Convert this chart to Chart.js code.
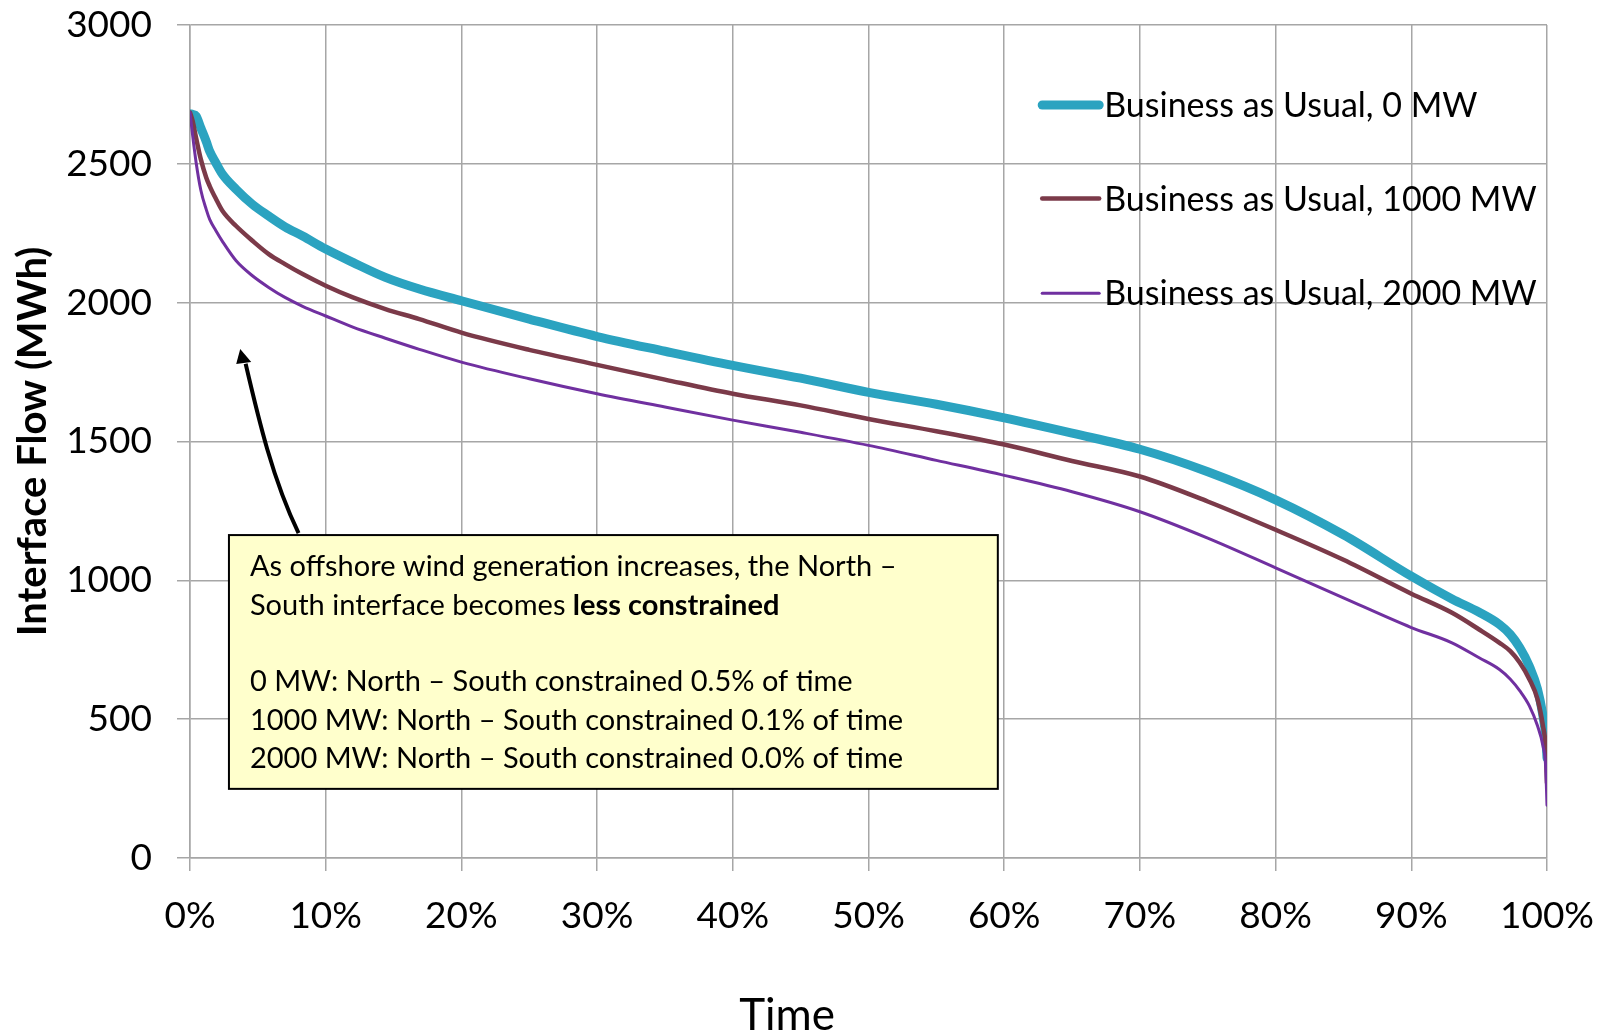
<!DOCTYPE html>
<html>
<head>
<meta charset="utf-8">
<title>Interface Flow duration curves</title>
<script src="https://cdn.jsdelivr.net/npm/chart.js@4.4.1/dist/chart.umd.min.js"></script>
<style>
  html, body { margin: 0; padding: 0; background: #ffffff; }
  #wrap { position: relative; width: 1610px; height: 1031px; }
  canvas { display: block; }
</style>
</head>
<body>
<div id="wrap"><canvas id="chart" width="1610" height="1031"></canvas></div>
<script>
// Share of time (%) at which each flow level is sampled
const timePct = [0, 0.2, 0.45, 0.8, 1.2, 1.45, 1.9, 2.4, 3.4, 4.6, 5.8, 7, 8.3, 10, 12, 14.4, 16.9, 20, 25, 30, 35, 40, 45, 50, 55, 60, 65, 70, 75, 80, 85, 90, 93, 95, 96.5, 97.3, 98, 98.7, 99.3, 99.7, 99.9, 100];

// Sorted North–South interface flow (MWh) for each offshore wind scenario
const flow0MW = [2680, 2678, 2672, 2629, 2580, 2545, 2504, 2462, 2408, 2354, 2312, 2273, 2240, 2193, 2145, 2091, 2049, 2007, 1941, 1878, 1825, 1774, 1728, 1677, 1634, 1585, 1530, 1472, 1391, 1290, 1164, 1015, 933, 885, 841, 805, 757, 691, 608, 512, 440, 360];
const flow1000MW = [2685, 2653, 2593, 2516, 2450, 2420, 2375, 2330, 2276, 2223, 2175, 2139, 2103, 2061, 2019, 1977, 1941, 1892, 1830, 1776, 1723, 1672, 1630, 1581, 1537, 1489, 1430, 1374, 1284, 1182, 1074, 952, 883, 823, 775, 745, 703, 644, 572, 476, 400, 270];
const flow2000MW = [2685, 2600, 2505, 2405, 2335, 2300, 2260, 2220, 2151, 2097, 2055, 2019, 1987, 1952, 1912, 1872, 1832, 1786, 1726, 1672, 1624, 1577, 1533, 1486, 1432, 1378, 1319, 1247, 1152, 1045, 937, 830, 775, 721, 679, 644, 602, 548, 476, 404, 330, 190];

const seriesNames = ['Business as Usual, 0 MW', 'Business as Usual, 1000 MW', 'Business as Usual, 2000 MW'];

// Axis ticks and titles
const xTickValues = [0, 10, 20, 30, 40, 50, 60, 70, 80, 90, 100];
const xTickLabels = ['0%', '10%', '20%', '30%', '40%', '50%', '60%', '70%', '80%', '90%', '100%'];
const yTickValues = [0, 500, 1000, 1500, 2000, 2500, 3000];
const yTickLabels = ['0', '500', '1000', '1500', '2000', '2500', '3000'];
const xTitle = 'Time';
const yTitle = 'Interface Flow (MWh)';

// Callout text
const noteLines = [
  [{ t: 'As offshore wind generation increases, the North \u2013', b: false }],
  [{ t: 'South interface becomes ', b: false }, { t: 'less constrained', b: true }],
  [],
  [{ t: '0 MW: North \u2013 South constrained 0.5% of time', b: false }],
  [{ t: '1000 MW: North \u2013 South constrained 0.1% of time', b: false }],
  [{ t: '2000 MW: North \u2013 South constrained 0.0% of time', b: false }]
];

const FONT = 'Lato, "Open Sans", "Liberation Sans", sans-serif';
const GRID = '#a6a6a6';
const colors = ['#2ba3c0', '#7b3a49', '#7030a0'];
const widths = [9, 4.5, 3];

function toPoints(values) {
  return values.map((v, i) => ({ x: timePct[i], y: v }));
}

// Callout box, arrow, legend and x-axis title drawn on top of the plot
const overlay = {
  id: 'overlay',
  afterDatasetsDraw(chart) {
    const { ctx, scales: { x, y } } = chart;
    ctx.save();

    // arrow from the callout up toward the curves
    const ax0 = x.getPixelForValue(8.0), ay0 = y.getPixelForValue(1170);
    const ax1 = x.getPixelForValue(4.1), ay1 = y.getPixelForValue(1780);
    ctx.strokeStyle = '#000';
    ctx.lineWidth = 4;
    ctx.beginPath();
    ctx.moveTo(ax0, ay0);
    ctx.bezierCurveTo(ax0 - 26, ay0 - 54, ax0 - 40, ay0 - 114, ax1, ay1);
    ctx.stroke();
    const tipX = x.getPixelForValue(3.7), tipY = y.getPixelForValue(1833);
    ctx.fillStyle = '#000';
    ctx.beginPath();
    ctx.moveTo(tipX, tipY);
    ctx.lineTo(tipX + 11, tipY + 13);
    ctx.lineTo(tipX - 4, tipY + 15);
    ctx.closePath();
    ctx.fill();

    // callout box
    const bx0 = x.getPixelForValue(2.87), bx1 = x.getPixelForValue(59.53);
    const by0 = y.getPixelForValue(1163), by1 = y.getPixelForValue(249);
    ctx.fillStyle = '#ffffcc';
    ctx.fillRect(bx0, by0, bx1 - bx0, by1 - by0);
    ctx.lineWidth = 2;
    ctx.strokeStyle = '#000';
    ctx.strokeRect(bx0, by0, bx1 - bx0, by1 - by0);

    ctx.fillStyle = '#000';
    ctx.textBaseline = 'middle';
    ctx.textAlign = 'left';
    noteLines.forEach((parts, i) => {
      let cx = bx0 + 21;
      const cy = by0 + 32 + i * 38.3;
      parts.forEach(p => {
        ctx.font = (p.b ? 'bold ' : '') + '29px ' + FONT;
        ctx.fillText(p.t, cx, cy);
        cx += ctx.measureText(p.t).width;
      });
    });

    // legend
    const lx0 = x.getPixelForValue(62.8), lx1 = x.getPixelForValue(67.0);
    const rows = [2712, 2375, 2034];
    ctx.font = '34px ' + FONT;
    seriesNames.forEach((name, i) => {
      const ly = y.getPixelForValue(rows[i]);
      ctx.strokeStyle = colors[i];
      ctx.lineWidth = widths[i];
      ctx.lineCap = 'round';
      ctx.beginPath();
      ctx.moveTo(lx0, ly);
      ctx.lineTo(lx1, ly);
      ctx.stroke();
      ctx.fillStyle = '#000';
      ctx.fillText(name, lx1 + 5, ly + 1);
    });

    // x-axis title
    ctx.font = '44px ' + FONT;
    ctx.textAlign = 'center';
    ctx.textBaseline = 'alphabetic';
    ctx.fillText(xTitle, x.getPixelForValue(44.0), chart.height - 1);
    ctx.restore();
  }
};

new Chart(document.getElementById('chart'), {
  type: 'line',
  data: {
    datasets: [flow0MW, flow1000MW, flow2000MW].map((vals, i) => ({
      label: seriesNames[i],
      data: toPoints(vals),
      borderColor: colors[i],
      backgroundColor: colors[i],
      borderWidth: widths[i],
      pointRadius: 0,
      cubicInterpolationMode: 'monotone',
      borderCapStyle: 'round',
      borderJoinStyle: 'round',
      order: 3 - i
    }))
  },
  options: {
    responsive: false,
    animation: false,
    layout: { padding: { left: 0, right: 63, top: 25, bottom: 0 } },
    plugins: { legend: { display: false }, tooltip: { enabled: false } },
    scales: {
      x: {
        type: 'linear',
        min: 0, max: 100,
        afterFit(scale) {
          scale.height = 173;
          scale.paddingLeft = 0;
          scale.paddingRight = 0;
        },
        afterBuildTicks(scale) { scale.ticks = xTickValues.map(v => ({ value: v })); },
        ticks: {
          callback: (v) => xTickLabels[xTickValues.indexOf(v)],
          font: { family: FONT, size: 37 },
          color: '#000',
          padding: 23,
          maxRotation: 0
        },
        grid: { color: GRID, lineWidth: 1.5, tickLength: 13 },
        border: { color: GRID, width: 1.5 }
      },
      y: {
        type: 'linear',
        min: 0, max: 3000,
        afterFit(scale) {
          scale.width = 190;
          scale.paddingTop = 0;
          scale.paddingBottom = 0;
        },
        afterBuildTicks(scale) { scale.ticks = yTickValues.map(v => ({ value: v })); },
        ticks: {
          callback: (v) => yTickLabels[yTickValues.indexOf(v)],
          font: { family: FONT, size: 37 },
          color: '#000',
          padding: 25
        },
        grid: { color: GRID, lineWidth: 1.5, tickLength: 13 },
        border: { color: GRID, width: 1.5 },
        title: {
          display: true,
          text: yTitle,
          font: { family: FONT, size: 40, weight: 'bold', lineHeight: 1 },
          color: '#000',
          padding: { top: 13, bottom: 0 }
        }
      }
    }
  },
  plugins: [overlay]
});
</script>
</body>
</html>
